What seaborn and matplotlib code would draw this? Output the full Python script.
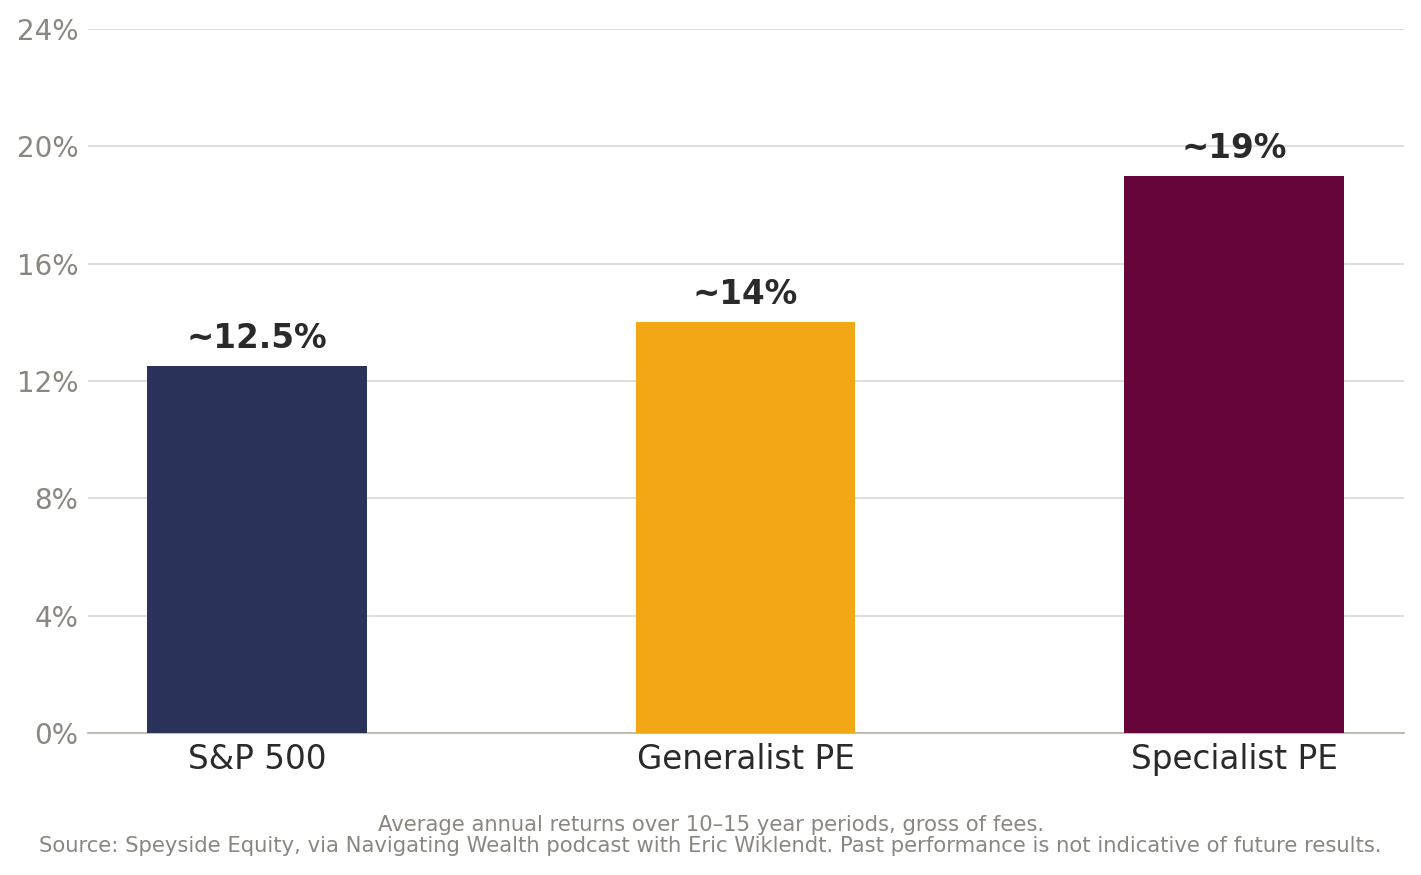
import matplotlib.pyplot as plt
import pandas as pd
import seaborn as sns
from matplotlib.ticker import FuncFormatter

categories = ["S&P 500", "Generalist PE", "Specialist PE"]
returns = [12.5, 14.0, 19.0]
bar_labels = ["~12.5%", "~14%", "~19%"]
colors = ["#2b335a", "#f2a814", "#66053a"]
y_ticks = [0, 4, 8, 12, 16, 20, 24]

footnote = (
    "Average annual returns over 10\u201315 year periods, gross of fees.\n"
    "Source: Speyside Equity, via Navigating Wealth podcast with Eric Wiklendt. "
    "Past performance is not indicative of future results."
)

df = pd.DataFrame({"category": categories, "ret": returns})

sns.set_theme(style="white")
plt.rcParams["font.family"] = ["DejaVu Sans"]

fig = plt.figure(figsize=(14.21, 8.75), dpi=100)
ax = fig.add_axes([0.0619, 0.1623, 0.988 - 0.0619, 0.9669 - 0.1623])

sns.barplot(data=df, x="category", y="ret", hue="category",
            palette=dict(zip(categories, colors)), width=0.45,
            legend=False, saturation=1, linewidth=0, ax=ax, zorder=3)

for i, (v, lab) in enumerate(zip(returns, bar_labels)):
    ax.annotate(lab, xy=(i, v), xytext=(0, 8), textcoords="offset points",
                ha="center", va="bottom", fontsize=23.5, fontweight="bold",
                color="#2a2a2a", zorder=5)

ax.set_ylim(0, 24)
ax.set_xlim(-0.346, 2.348)
ax.set_yticks(y_ticks)
ax.yaxis.set_major_formatter(FuncFormatter(lambda v, _: f"{v:.0f}%"))
ax.grid(axis="y", color="#dcdcd6", linewidth=1.3, zorder=0)
ax.set_axisbelow(True)
ax.tick_params(axis="y", length=0, pad=7, labelsize=20, labelcolor="#8a8780")
ax.tick_params(axis="x", length=0, pad=7, labelsize=23.5, labelcolor="#2a2a2a")
ax.set_xlabel("")
ax.set_ylabel("")

for side in ["top", "right", "left"]:
    ax.spines[side].set_visible(False)
ax.spines["bottom"].set_color("#b9b8ab")
ax.spines["bottom"].set_linewidth(1.3)

fig.text(0.5, 0.022, footnote, ha="center", va="bottom", fontsize=15.25,
         color="#8a8780", linespacing=1.05)

fig.savefig("out.png", dpi=100)
